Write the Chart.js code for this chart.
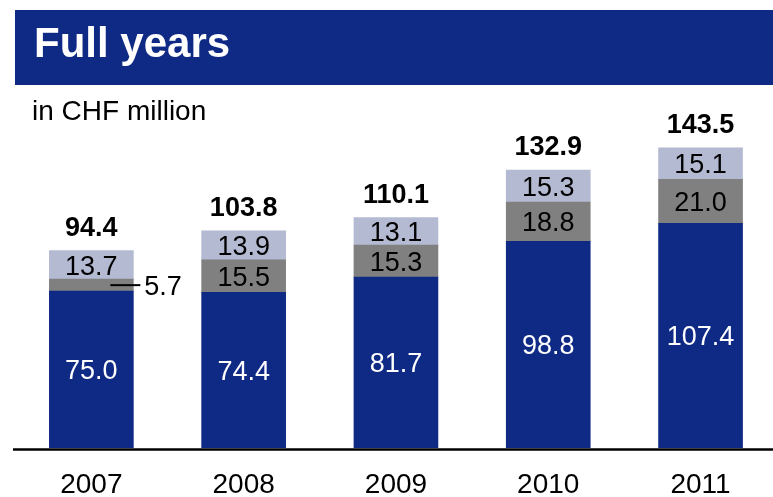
<!DOCTYPE html>
<html>
<head>
<meta charset="utf-8">
<script src="https://cdn.jsdelivr.net/npm/chart.js@4"></script>
<style>
  html, body { margin: 0; padding: 0; background: #fff; overflow: hidden; }
  #wrap { position: absolute; left: 0; top: 0; width: 790px; height: 497px; }
</style>
</head>
<body>
<div id="wrap"><canvas id="salesChart"></canvas></div>
<script>
// Full-year figures, CHF million
const years = ['2007', '2008', '2009', '2010', '2011'];
const coreValues = [75.0, 74.4, 81.7, 98.8, 107.4];
const midValues = [5.7, 15.5, 15.3, 18.8, 21.0];
const topValues = [13.7, 13.9, 13.1, 15.3, 15.1];

const NAVY = '#0f2a84';
const GREY = '#808080';
const LIGHT = '#b3bad2';
const FONT = '"Liberation Sans", Arial, Helvetica, sans-serif';

// header bar, unit note, baseline, year labels and value labels
const decorations = {
  id: 'decorations',
  beforeDraw(chart) {
    const ctx = chart.ctx;
    ctx.save();
    ctx.fillStyle = NAVY;
    ctx.fillRect(15, 10, chart.width - 15, 75);
    ctx.fillStyle = '#fff';
    ctx.font = 'bold 42px ' + FONT;
    ctx.textBaseline = 'alphabetic';
    ctx.fillText('Full years', 34, 57);
    ctx.fillStyle = '#000';
    ctx.font = '28px ' + FONT;
    ctx.fillText('in CHF million', 32, 120);
    ctx.restore();
  },
  afterDatasetsDraw(chart) {
    const ctx = chart.ctx;
    const x = chart.scales.x;
    const y = chart.scales.y;
    ctx.save();

    ctx.strokeStyle = '#000';
    ctx.lineWidth = 2.5;
    ctx.beginPath();
    ctx.moveTo(13, 449.5);
    ctx.lineTo(chart.width, 449.5);
    ctx.stroke();

    ctx.textAlign = 'center';
    ctx.textBaseline = 'alphabetic';

    years.forEach((yr, i) => {
      const cx = x.getPixelForValue(i);
      ctx.fillStyle = '#000';
      ctx.font = '28px ' + FONT;
      ctx.fillText(yr, cx, 493);

      const segs = [
        { v: coreValues[i], base: 0, color: '#fff' },
        { v: midValues[i], base: coreValues[i], color: '#000' },
        { v: topValues[i], base: coreValues[i] + midValues[i], color: '#000' }
      ];
      ctx.font = '27px ' + FONT;
      segs.forEach((s, k) => {
        const y0 = y.getPixelForValue(s.base);
        const y1 = y.getPixelForValue(s.base + s.v);
        const cy = (y0 + y1) / 2;
        const label = s.v.toFixed(1);
        if (y0 - y1 < 20) {
          // thin slice: label beside the bar with a leader line
          ctx.strokeStyle = '#000';
          ctx.lineWidth = 2;
          ctx.beginPath();
          ctx.moveTo(cx + 19, cy);
          ctx.lineTo(cx + 49, cy);
          ctx.stroke();
          ctx.fillStyle = '#000';
          ctx.textAlign = 'left';
          ctx.fillText(label, cx + 53, cy + 9.7);
          ctx.textAlign = 'center';
        } else {
          ctx.fillStyle = s.color;
          ctx.fillText(label, cx, cy + 9.7);
        }
      });

      const total = coreValues[i] + midValues[i] + topValues[i];
      const top = y.getPixelForValue(total);
      ctx.fillStyle = '#000';
      ctx.font = 'bold 27px ' + FONT;
      ctx.fillText(total.toFixed(1), cx, top - 15);
    });
    ctx.restore();
  }
};

new Chart(document.getElementById('salesChart'), {
  type: 'bar',
  data: {
    labels: years,
    datasets: [
      { data: coreValues, backgroundColor: NAVY },
      { data: midValues, backgroundColor: GREY },
      { data: topValues, backgroundColor: LIGHT }
    ]
  },
  options: {
    responsive: true,
    maintainAspectRatio: false,
    animation: false,
    events: [],
    barThickness: 84,
    layout: { padding: { left: 15.2, right: 13.3, top: 113.3, bottom: 49 } },
    plugins: { legend: { display: false }, tooltip: { enabled: false } },
    scales: {
      x: { stacked: true, display: false, offset: true },
      y: { stacked: true, display: false, min: 0, max: 160 }
    }
  },
  plugins: [decorations]
});
</script>
</body>
</html>
